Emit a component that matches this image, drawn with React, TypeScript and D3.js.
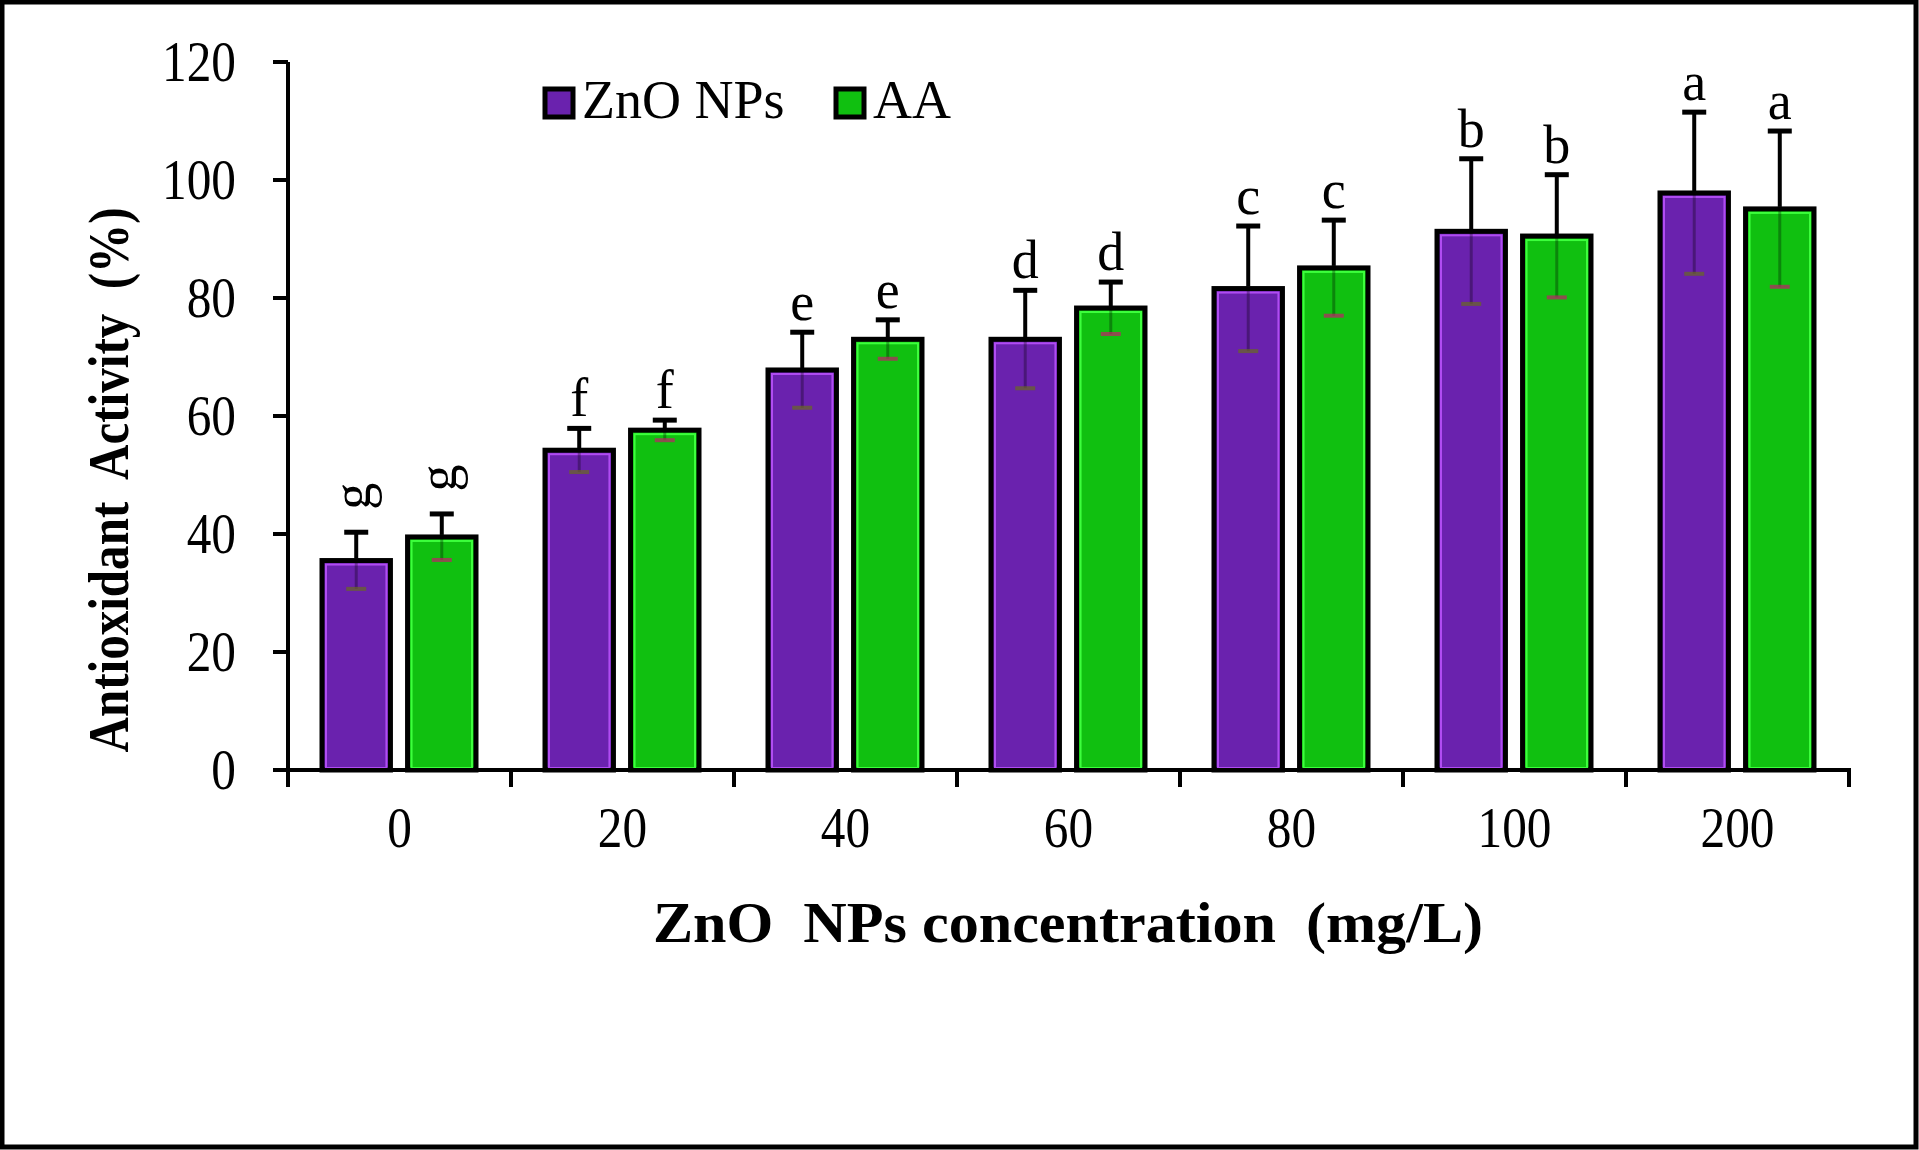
import * as d3 from 'd3';
import React from "react";

const WIDTH = 1919;
const HEIGHT = 1150;

const categories = ["0", "20", "40", "60", "80", "100", "200"];
const series = ["ZnO NPs", "AA"];
const znoValues = [35.5, 54.2, 67.8, 73.0, 81.6, 91.3, 97.8];
const znoErrors = [4.8, 3.7, 6.4, 8.3, 10.6, 12.3, 13.7];
const aaValues = [39.5, 57.6, 73.0, 78.3, 85.1, 90.5, 95.1];
const aaErrors = [3.9, 1.7, 3.3, 4.4, 8.1, 10.4, 13.2];
const znoLetters = ["g", "f", "e", "d", "c", "b", "a"];
const aaLetters = ["g", "f", "e", "d", "c", "b", "a"];
const yTicks = [0, 20, 40, 60, 80, 100, 120];

const FILLS = ["#6a22ae", "#10c010"];
const EDGES = ["#b04cf2", "#3cff3c"];
const SERIF = "'Liberation Serif', 'Times New Roman', serif";
const AX = 288;

const App: React.FC = () => {
    const x0 = d3.scaleBand().domain(categories).range([AX, 1849]);
    const x1 = d3.scaleBand().domain(series).range([34, 188]).paddingInner(0.2);
    const y = d3.scaleLinear().domain([0, 120]).range([770, 62]);

    const values = [znoValues, aaValues];
    const errors = [znoErrors, aaErrors];
    const letters = [znoLetters, aaLetters];
    const bw = x1.bandwidth();
    const bounds = [...categories.map(c => x0(c)!), x0.range()[1]];

    return (
        <svg width={WIDTH} height={HEIGHT} style={{position: 'absolute', left: 0, top: 0}}
             fontFamily={SERIF}>
            <rect x={0} y={0} width={WIDTH} height={HEIGHT} fill="#fff"/>

            {/* bars */}
            {categories.map((c, i) => (
                <g key={c} transform={`translate(${x0(c)},0)`}>
                    {series.map((s, si) => {
                        const v = values[si][i];
                        const e = errors[si][i];
                        const bx = x1(s)!;
                        const cx = bx + bw / 2;
                        const top = y(v);
                        const letter = letters[si][i];
                        const ly = y(v + e) - 12;
                        return (
                            <g key={s}>
                                <rect x={bx} y={top} width={bw} height={y(0) - top}
                                      fill={FILLS[si]} stroke="#000" strokeWidth={5}/>
                                <rect x={bx + 4} y={top + 4} width={bw - 8} height={y(0) - top - 6}
                                      fill="none" stroke={EDGES[si]} strokeWidth={2}/>
                                {/* lower error half, faint inside the bar */}
                                <line x1={cx} x2={cx} y1={top} y2={y(v - e)}
                                      stroke="#000" strokeOpacity={0.3} strokeWidth={3}/>
                                <line x1={cx - 10} x2={cx + 10} y1={y(v - e)} y2={y(v - e)}
                                      stroke={si === 0 ? "#6a6a20" : "#c0206a"} strokeOpacity={0.7} strokeWidth={4}/>
                                {/* upper error half */}
                                <line x1={cx} x2={cx} y1={top - 2} y2={y(v + e)}
                                      stroke="#000" strokeWidth={4}/>
                                <line x1={cx - 12} x2={cx + 12} y1={y(v + e)} y2={y(v + e)}
                                      stroke="#000" strokeWidth={5}/>
                                {letter === "g" ? (
                                    <text transform={`translate(${cx + 14},${y(v + e) - 36}) rotate(-90)`}
                                          textAnchor="middle" fontSize={54}>{letter}</text>
                                ) : (
                                    <text x={cx} y={ly} textAnchor="middle" fontSize={54}>{letter}</text>
                                )}
                            </g>
                        );
                    })}
                </g>
            ))}

            {/* y axis */}
            <line x1={AX} x2={AX} y1={y(120)} y2={y(0)} stroke="#000" strokeWidth={4}/>
            {yTicks.map(t => (
                <g key={t}>
                    <line x1={AX - 15} x2={AX} y1={y(t)} y2={y(t)} stroke="#000" strokeWidth={4}/>
                    <text x={236} y={y(t) + 19} textAnchor="end" fontSize={56}
                          transform={`translate(${236 * 0.12},0) scale(0.88,1)`}>{t}</text>
                </g>
            ))}

            {/* x axis */}
            <line x1={AX - 2} x2={1851} y1={y(0)} y2={y(0)} stroke="#000" strokeWidth={4}/>
            {bounds.map((b, i) => (
                <line key={i} x1={b} x2={b} y1={y(0)} y2={y(0) + 17} stroke="#000" strokeWidth={4}/>
            ))}
            {categories.map(c => {
                const cx = x0(c)! + x0.bandwidth() / 2;
                return (
                    <text key={c} x={cx / 0.88} y={847} textAnchor="middle" fontSize={56}
                          transform="scale(0.88,1)">{c}</text>
                );
            })}

            {/* axis titles */}
            <text x={1068} y={942} textAnchor="middle" fontSize={58} fontWeight="bold"
                  style={{whiteSpace: 'pre'}}
                  textLength={830} lengthAdjust="spacingAndGlyphs">ZnO  NPs concentration  (mg/L)</text>
            <text transform="translate(128,480) rotate(-90)" textAnchor="middle" fontSize={56}
                  fontWeight="bold" style={{whiteSpace: 'pre'}}
                  textLength={545} lengthAdjust="spacingAndGlyphs">Antioxidant  Activity  (%)</text>

            {/* legend */}
            {series.map((s, si) => {
                const lx = [545, 836][si];
                return (
                    <g key={s}>
                        <rect x={lx} y={89} width={28} height={28} fill={FILLS[si]} stroke="#000" strokeWidth={5}/>
                        <text x={lx + 37} y={118} fontSize={54}>{s}</text>
                    </g>
                );
            })}

            {/* frame */}
            <rect x={2} y={2} width={WIDTH - 5} height={HEIGHT - 5} fill="none" stroke="#000" strokeWidth={5}/>
        </svg>
    );
};

export default App;
